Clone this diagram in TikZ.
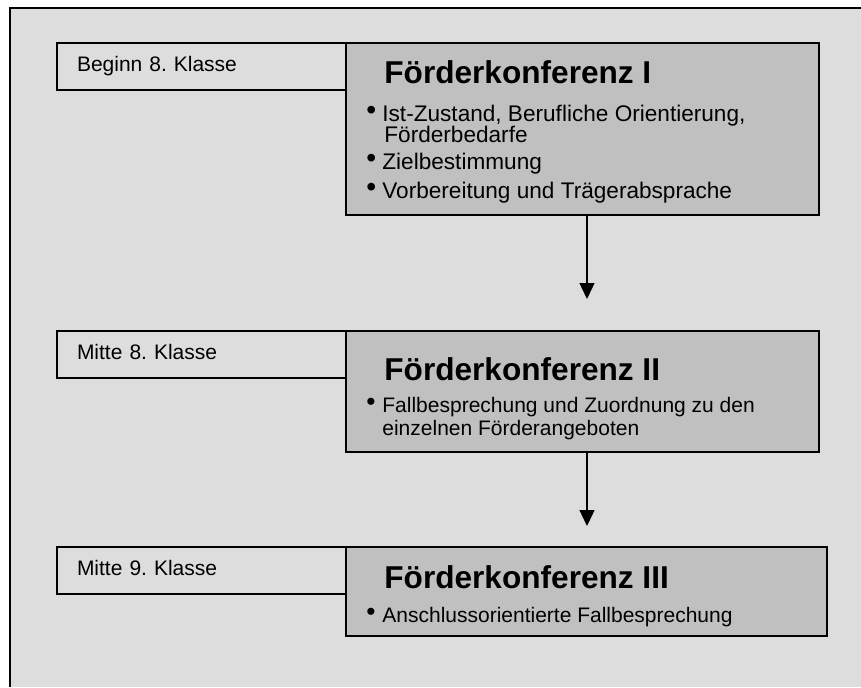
\documentclass[tikz,border=0pt]{standalone}
\usepackage{fontspec}
\setmainfont{Liberation Sans}
\usetikzlibrary{arrows.meta}
\definecolor{hgrau}{HTML}{DDDDDD}
\definecolor{kgrau}{HTML}{C0C0C0}
\frenchspacing
\newcommand{\pkt}{\makebox[8pt][l]{\raisebox{0.6pt}{\scalebox{1.25}{\textbullet}}}}
\tikzset{
  stufe/.style={draw, line width=1pt, fill=hgrau, anchor=north west, outer sep=0pt,
    inner xsep=10pt, inner ysep=0pt, text width=124.5pt, align=left,
    minimum height=23.5pt, text height=7.6pt, text depth=2.2pt,
    font=\fontsize{10.5}{12}\selectfont},
  konf/.style={draw, line width=1pt, fill=kgrau, anchor=north west, outer sep=0pt,
    inner sep=0pt, minimum width=236.5pt},
  titel/.style={anchor=base west, inner sep=0pt, font=\fontsize{15.8}{19}\selectfont\bfseries},
  punkt/.style={anchor=base west, inner sep=0pt, font=\fontsize{11.3}{13}\selectfont},
  punktk/.style={anchor=base west, inner sep=0pt, font=\fontsize{10.5}{12}\selectfont},
  pfeil/.style={line width=0.65pt, -{Triangle[length=8pt,width=7.5pt]}}
}
\begin{document}
\begin{tikzpicture}[x=0.5pt, y=-0.5pt]
		%%%%% RAHMEN %%%%%
		\useasboundingbox (0,0) rectangle (861,687);
		\fill[hgrau] (10,8) rectangle (861,687);
		\draw[line width=1pt] (10,687) -- (10,8) -- (861,8);
		
		%%%%% KONFERENZ I %%%%%
		\node[stufe] (zeit1) at (57,43) {Beginn 8. Klasse};
		\node[konf, minimum height=86pt] (konf1) at (346,43) {};
		\node[titel] (titel1) at (384,83) {Förderkonferenz I};
		\node[punkt] (p11) at (366,121) {\pkt Ist-Zustand, Berufliche Orientierung,};
		\node[punkt] (p11b) at (384,142) {Förderbedarfe};
		\node[punkt] (p12) at (366,169) {\pkt Zielbestimmung};
		\node[punkt] (p13) at (366,198) {\pkt Vorbereitung und Trägerabsprache};
		
		\coordinate (spitze1) at (587,299);
		\draw[pfeil] (konf1.south -| spitze1) -- (spitze1);
		
		%%%%% KONFERENZ II %%%%%
		\node[stufe] (zeit2) at (57,331) {Mitte 8. Klasse};
		\node[konf, minimum height=60.5pt] (konf2) at (346,331) {};
		\node[titel] (titel2) at (384,380) {Förderkonferenz II};
		\node[punktk] (p21) at (366,412) {\pkt Fallbesprechung und Zuordnung zu den};
		\node[punktk] (p21b) at (382,435) {einzelnen Förderangeboten};
		
		\coordinate (spitze2) at (587,526);
		\draw[pfeil] (konf2.south -| spitze2) -- (spitze2);
		
		%%%%% KONFERENZ III %%%%%
		\node[stufe] (zeit3) at (57,547) {Mitte 9. Klasse};
		\node[konf, minimum width=240.5pt, minimum height=44.5pt] (konf3) at (346,547) {};
		\node[titel] (titel3) at (384,588) {Förderkonferenz III};
		\node[punktk] (p31) at (366,622) {\pkt Anschlussorientierte Fallbesprechung};
		%%%%% ENDE %%%%%
	\end{tikzpicture}
\end{document}
